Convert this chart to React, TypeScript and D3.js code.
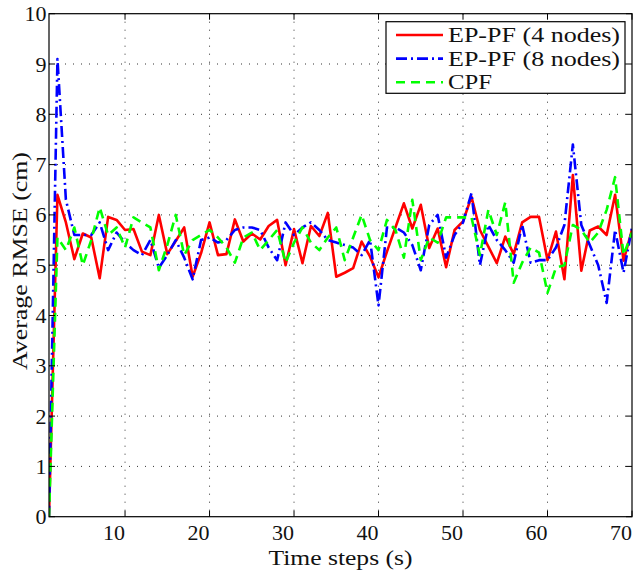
import React from "react";
import * as d3 from "d3";

const X_VALUES: number[] = d3.range(1, 71);

const RED_4NODES: number[] = [
  0, 6.4, 5.85, 5.12, 5.63, 5.55, 4.74, 5.96, 5.9, 5.7,
  5.72, 5.27, 5.2, 6.0, 5.22, 5.48, 5.75, 4.77, 5.24, 5.85,
  5.2, 5.22, 5.91, 5.47, 5.63, 5.51, 5.78, 5.9, 5.0, 5.72,
  5.04, 5.78, 5.58, 6.04, 4.77, 4.85, 4.94, 5.47, 5.17, 4.76,
  5.27, 5.75, 6.23, 5.73, 6.2, 5.34, 5.73, 4.96, 5.7, 5.87,
  6.36, 5.7, 5.37, 5.04, 5.57, 5.22, 5.85, 5.96, 5.96, 5.1,
  5.67, 4.72, 6.79, 4.89, 5.69, 5.77, 5.6, 6.4, 5.09, 5.71,
];

const BLUE_8NODES: number[] = [
  0, 9.1, 6.3, 5.6, 5.6, 5.6, 5.85, 5.3, 5.65, 5.45,
  5.3, 5.2, 5.5, 4.95, 5.2, 5.5, 5.15, 4.72, 5.5, 5.55,
  5.45, 5.5, 5.7, 5.75, 5.75, 5.7, 5.35, 5.1, 5.85, 5.6,
  5.75, 5.85, 5.7, 5.5, 5.45, 5.4, 5.35, 5.2, 5.5, 4.2,
  5.75, 5.75, 5.65, 5.4, 4.9, 5.8, 6.0, 5.15, 5.6, 5.85,
  6.43, 5.0, 5.8, 5.5, 5.3, 5.05, 5.8, 5.05, 5.1, 5.1,
  5.35, 5.8, 7.4, 5.8, 5.4, 5.0, 4.25, 5.7, 4.85, 5.75,
];

const GREEN_CPF: number[] = [
  0, 5.55, 5.3, 5.75, 5.0, 5.5, 6.15, 5.6, 5.75, 5.35,
  5.95, 5.85, 5.75, 4.9, 5.4, 6.0, 5.2, 5.5, 5.6, 5.7,
  5.55, 5.35, 5.05, 5.55, 5.65, 5.3, 5.5, 5.7, 5.05, 5.45,
  5.75, 5.45, 5.3, 5.55, 5.75, 5.1, 5.55, 6.0, 5.5, 5.3,
  5.9, 5.7, 5.15, 6.3, 5.1, 5.55, 5.45, 5.95, 5.95, 5.95,
  5.95, 5.2, 6.1, 5.6, 6.25, 4.65, 5.05, 5.35, 5.25, 4.45,
  4.95, 5.0, 5.8, 5.7, 5.45, 5.65, 6.1, 6.75, 5.2, 5.65,
];

const SERIES_NAMES: string[] = ["EP-PF (4 nodes)", "EP-PF (8 nodes)", "CPF"];
const X_TICKS: number[] = [10, 20, 30, 40, 50, 60, 70];
const Y_TICKS: number[] = [0, 1, 2, 3, 4, 5, 6, 7, 8, 9, 10];
const X_LABEL = "Time steps (s)";
const Y_LABEL = "Average RMSE (cm)";

const W = 634;
const H = 573;
const LEFT = 49;
const RIGHT = 632;
const TOP = 13.7;
const BOTTOM = 516.7;
const FONT = "Liberation Serif";

export default function App() {
  const x = d3.scaleLinear().domain([1, 70]).range([LEFT, RIGHT]);
  const y = d3.scaleLinear().domain([0, 10]).range([BOTTOM, TOP]);

  const series = [
    { name: SERIES_NAMES[0], values: RED_4NODES, color: "#ff0000", dash: undefined as string | undefined },
    { name: SERIES_NAMES[1], values: BLUE_8NODES, color: "#0000ff", dash: "11,4,2,4" },
    { name: SERIES_NAMES[2], values: GREEN_CPF, color: "#00ff00", dash: "9,6" },
  ];

  const line = d3
    .line<number>()
    .x((_, i) => x(X_VALUES[i]))
    .y((d) => y(d));

  const tickLen = 6;
  const gridColor = "#333";
  const textStyle: React.CSSProperties = { fontFamily: FONT, fontWeight: 400 };

  return (
    <svg
      width={W}
      height={H}
      style={{ position: "absolute", left: 0, top: 0, background: "#fff", fontFamily: FONT }}
    >
      <rect x={0} y={0} width={W} height={H} fill="#fff" />
      <defs>
        <clipPath id="plotClip">
          <rect x={LEFT} y={TOP} width={RIGHT - LEFT} height={BOTTOM - TOP} />
        </clipPath>
      </defs>

      {X_TICKS.filter((t) => t < 70).map((t) => (
        <line
          key={"gx" + t}
          x1={x(t)}
          x2={x(t)}
          y1={TOP}
          y2={BOTTOM}
          stroke={gridColor}
          strokeWidth={1}
          strokeDasharray="1,7"
        />
      ))}
      {Y_TICKS.filter((t) => t > 0 && t < 10).map((t) => (
        <line
          key={"gy" + t}
          x1={LEFT}
          x2={RIGHT}
          y1={y(t)}
          y2={y(t)}
          stroke={gridColor}
          strokeWidth={1}
          strokeDasharray="1,7"
        />
      ))}

      <g clipPath="url(#plotClip)">
        {series.map((s) => (
          <path
            key={s.name}
            d={line(s.values) || ""}
            fill="none"
            stroke={s.color}
            strokeWidth={2.6}
            strokeDasharray={s.dash}
            strokeLinejoin="round"
          />
        ))}
      </g>

      <rect
        x={LEFT}
        y={TOP}
        width={RIGHT - LEFT}
        height={BOTTOM - TOP}
        fill="none"
        stroke="#000"
        strokeWidth={1.2}
      />

      {X_TICKS.map((t) => (
        <g key={"tx" + t}>
          <line x1={x(t)} x2={x(t)} y1={BOTTOM} y2={BOTTOM - tickLen} stroke="#000" />
          <line x1={x(t)} x2={x(t)} y1={TOP} y2={TOP + tickLen} stroke="#000" />
          <text x={x(t)} y={540} textAnchor="end" fontSize={22} fill="#111" style={textStyle}>
            {t}
          </text>
        </g>
      ))}
      {Y_TICKS.map((t) => (
        <g key={"ty" + t}>
          <line x1={LEFT} x2={LEFT + tickLen} y1={y(t)} y2={y(t)} stroke="#000" />
          <line x1={RIGHT} x2={RIGHT - tickLen} y1={y(t)} y2={y(t)} stroke="#000" />
          <text x={46.5} y={y(t) + 7.5} textAnchor="end" fontSize={22} fill="#111" style={textStyle}>
            {t}
          </text>
        </g>
      ))}

      <text
        x={(LEFT + RIGHT) / 2}
        y={565}
        textAnchor="middle"
        fontSize={21}
        fill="#111"
        style={textStyle}
        textLength={144}
        lengthAdjust="spacingAndGlyphs"
      >
        {X_LABEL}
      </text>
      <text
        transform={`translate(27,261) rotate(-90)`}
        textAnchor="middle"
        fontSize={22}
        fill="#111"
        style={textStyle}
        textLength={218}
        lengthAdjust="spacingAndGlyphs"
      >
        {Y_LABEL}
      </text>

      <g>
        <rect x={386} y={21.7} width={239} height={71.6} fill="#fff" stroke="#000" strokeWidth={1.2} />
        {series.map((s, i) => {
          const ly = 35 + i * 23.6;
          return (
            <g key={"lg" + i}>
              <line
                x1={396}
                x2={443}
                y1={ly}
                y2={ly}
                stroke={s.color}
                strokeWidth={2.6}
                strokeDasharray={s.dash}
              />
              <text
                x={448}
                y={ly + 7}
                fontSize={22}
                fill="#111"
                style={textStyle}
                textLength={i < 2 ? 172 : 44}
                lengthAdjust="spacingAndGlyphs"
              >
                {s.name}
              </text>
            </g>
          );
        })}
      </g>
    </svg>
  );
}
